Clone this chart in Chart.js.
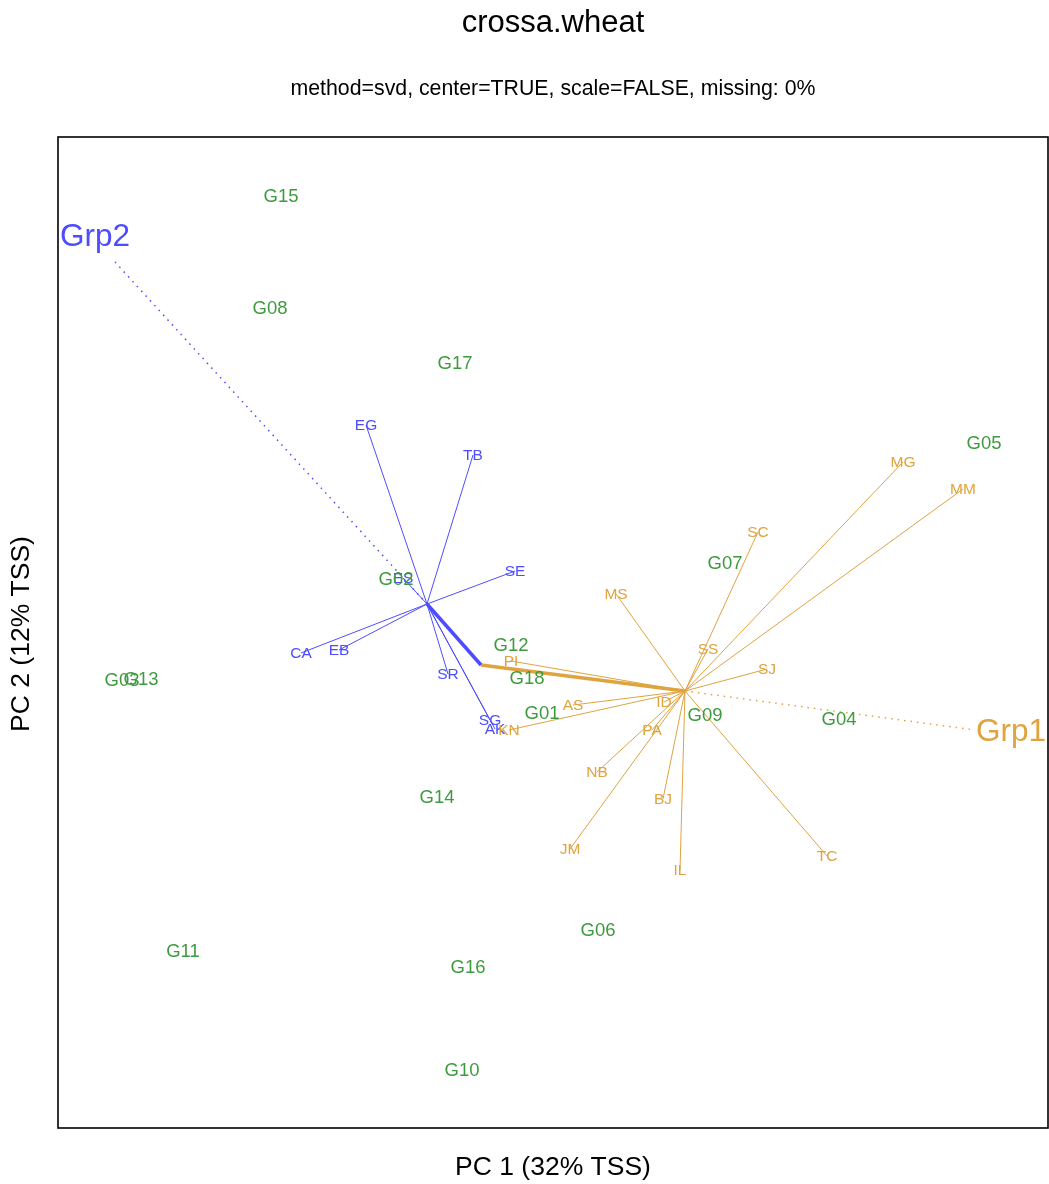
<!DOCTYPE html>
<html><head><meta charset="utf-8">
<script src="https://cdn.jsdelivr.net/npm/chart.js@4"></script>
<style>html,body{margin:0;padding:0;background:#fff}#wrap{width:1049px;height:1184px}</style>
</head><body><div id="wrap"><canvas id="c" width="1049" height="1184"></canvas></div>
<script>
// Genotype scores (PC1, PC2)
const genotypes = ["G15","G08","G17","G05","G07","G02","G12","G18","G03","G13","G01","G09","G04","G14","G06","G16","G11","G10"];
const genoPC1 = [-2.72,-2.83,-0.98,4.31,1.72,-1.57,-0.42,-0.26,-4.31,-4.12,-0.11,1.52,2.86,-1.16,0.45,-0.85,-3.70,-0.91];
const genoPC2 = [4.36,3.24,2.69,1.89,0.69,0.53,-0.13,-0.46,-0.48,-0.47,-0.81,-0.83,-0.87,-1.65,-2.98,-3.35,-3.19,-4.38];

// Group 2 environments (blue)
const grp2Env = ["EG","TB","SE","ES","CA","EB","SR","SG","AK"];
const grp2PC1 = [-1.87,-0.80,-0.38,-1.50,-2.52,-2.14,-1.05,-0.63,-0.58];
const grp2PC2 = [2.07,1.77,0.61,0.54,-0.21,-0.18,-0.42,-0.88,-0.97];
const grp2Centroid = [-1.26,0.28];

// Group 1 environments (orange)
const grp1Env = ["MG","MM","SC","MS","SS","SJ","PI","AS","ID","PA","KN","NB","BJ","JM","IL","TC"];
const grp1PC1 = [3.50,4.10,2.05,0.63,1.55,2.14,-0.42,0.20,1.11,0.99,-0.44,0.44,1.10,0.17,1.27,2.74];
const grp1PC2 = [1.70,1.43,1.00,0.38,-0.17,-0.37,-0.29,-0.73,-0.70,-0.98,-0.98,-1.40,-1.67,-2.17,-2.38,-2.24];
const grp1Centroid = [1.32,-0.59];

// Junction of group mean lines
const junction = [-0.72,-0.33];
// Group direction (dotted) ends and labels
const grpNames = ["Grp2","Grp1"];
const grpDirEnd = [[-4.38,3.70],[4.22,-0.98]];
const grpLabelPos = [[-4.58,3.96],[4.58,-0.99]];

const xRange = [-4.95,4.95];
const yRange = [-4.96,4.95];

const GREEN = "#3e9a3e", BLUE = "#4d4dff", ORANGE = "#dfa33f";

const datasets = [];
function seg(a,b,color,width,dash){
  datasets.push({type:'scatter',data:[{x:a[0],y:a[1]},{x:b[0],y:b[1]}],showLine:true,borderColor:color,borderWidth:width,borderDash:dash||[],pointRadius:0,pointHoverRadius:0,fill:false});
}
grp2Env.forEach((e,i)=>seg(grp2Centroid,[grp2PC1[i],grp2PC2[i]],BLUE,1));
grp1Env.forEach((e,i)=>seg(grp1Centroid,[grp1PC1[i],grp1PC2[i]],ORANGE,1));
seg(grp2Centroid,junction,BLUE,3.5);
seg(grp1Centroid,junction,ORANGE,3.5);
seg(grp2Centroid,grpDirEnd[0],BLUE,1.5,[1.5,5]);
seg(grp1Centroid,grpDirEnd[1],ORANGE,1.5,[1.5,5]);

function labelSet(names,xs,ys,color,size){
  datasets.push({type:'scatter',data:names.map((n,i)=>({x:xs[i],y:ys[i]})),pointRadius:0,pointHoverRadius:0,labels:names,labelColor:color,labelSize:size});
}
labelSet(grp2Env,grp2PC1,grp2PC2,BLUE,15.5);
labelSet(grp1Env,grp1PC1,grp1PC2,ORANGE,15.5);
labelSet(genotypes,genoPC1,genoPC2,GREEN,18.5);
labelSet(grpNames,grpLabelPos.map(p=>p[0]),grpLabelPos.map(p=>p[1]),null,31.5);
datasets[datasets.length-1].labelColors=[BLUE,ORANGE];

const FONT = "'Liberation Sans', Arial, sans-serif";
const textPlugin = {
  id:'textPlugin',
  afterDatasetsDraw(chart){
    const ctx = chart.ctx;
    ctx.save();
    chart.data.datasets.forEach((ds,di)=>{
      if(!ds.labels) return;
      const meta = chart.getDatasetMeta(di);
      ctx.font = ds.labelSize+"px "+FONT;
      ctx.textAlign='center'; ctx.textBaseline='middle';
      meta.data.forEach((pt,i)=>{
        ctx.fillStyle = ds.labelColors ? ds.labelColors[i] : ds.labelColor;
        ctx.fillText(ds.labels[i],pt.x,pt.y+1);
      });
    });
    const a = chart.chartArea;
    ctx.strokeStyle='#000'; ctx.lineWidth=1.6;
    ctx.strokeRect(a.left,a.top,a.right-a.left,a.bottom-a.top);
    ctx.fillStyle='#000'; ctx.textAlign='center'; ctx.textBaseline='middle';
    ctx.font="31px "+FONT;
    ctx.fillText("crossa.wheat",(a.left+a.right)/2,23);
    ctx.font="21.3px "+FONT;
    ctx.fillText("method=svd, center=TRUE, scale=FALSE, missing: 0%",(a.left+a.right)/2,89);
    ctx.font="26.5px "+FONT;
    ctx.fillText("PC 1 (32% TSS)",(a.left+a.right)/2,1168);
    ctx.save();
    ctx.translate(22,634); ctx.rotate(-Math.PI/2);
    ctx.fillText("PC 2 (12% TSS)",0,0);
    ctx.restore();
    ctx.restore();
  }
};

new Chart(document.getElementById('c'),{
  data:{datasets},
  options:{
    responsive:false,animation:false,
    layout:{padding:{left:58,right:1,top:137,bottom:56}},
    plugins:{legend:{display:false},tooltip:{enabled:false},title:{display:false}},
    scales:{
      x:{type:'linear',min:xRange[0],max:xRange[1],display:false},
      y:{type:'linear',min:yRange[0],max:yRange[1],display:false}
    }
  },
  plugins:[textPlugin]
});
</script></body></html>
